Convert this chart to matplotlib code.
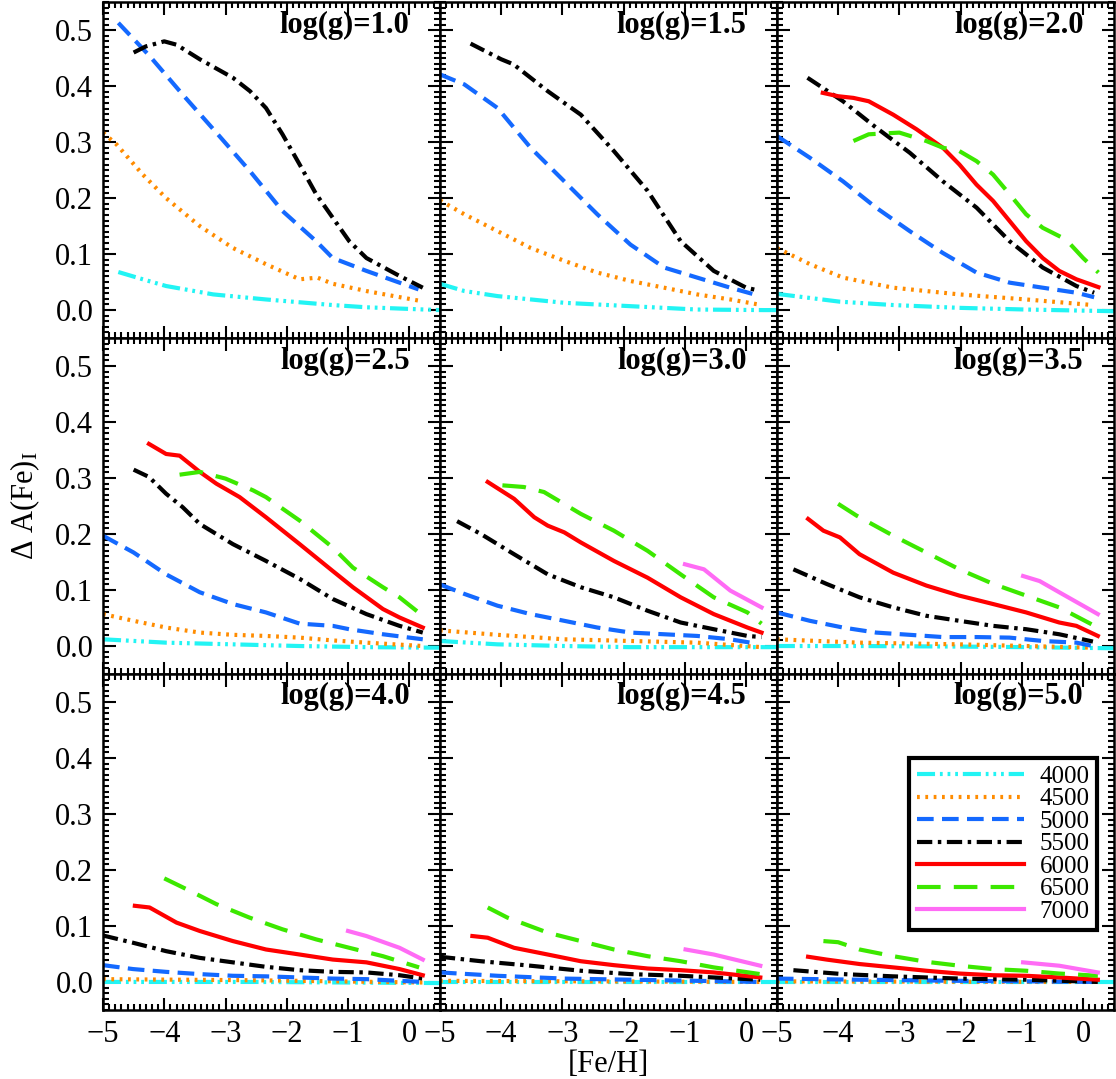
import numpy as np
import matplotlib
matplotlib.use('Agg')
import matplotlib.pyplot as plt
from matplotlib.ticker import MultipleLocator, FormatStrFormatter

plt.rcParams['font.family'] = ['Liberation Serif', 'DejaVu Serif']
plt.rcParams['mathtext.fontset'] = 'custom'
plt.rcParams['mathtext.rm'] = 'Liberation Serif'
plt.rcParams['mathtext.it'] = 'Liberation Serif:italic'
plt.rcParams['lines.scale_dashes'] = False

# effective temperatures and gravities
teffs = [4000, 4500, 5000, 5500, 6000, 6500, 7000]
loggs = ['1.0', '1.5', '2.0', '2.5', '3.0', '3.5', '4.0', '4.5', '5.0']

# curves per panel: Teff -> ([Fe/H], Delta A(Fe)_I)
g10 = {
    4000: ([-4.75, -4.35, -3.97, -3.2, -2.34, -1.25, -0.7, 0.5],
           [0.068, 0.055, 0.043, 0.028, 0.019, 0.009, 0.005, 0.0]),
    4500: ([-5.0, -4.78, -4.35, -3.97, -3.42, -2.88, -2.34, -1.79, -1.5, -1.25, -0.7, 0.2],
           [0.317, 0.296, 0.242, 0.200, 0.150, 0.111, 0.082, 0.055, 0.058, 0.047, 0.034, 0.016]),
    5000: ([-4.75, -4.24, -3.7, -3.15, -2.6, -2.07, -1.52, -1.25, -0.7, -0.16, 0.15],
           [0.513, 0.454, 0.385, 0.317, 0.248, 0.177, 0.123, 0.093, 0.070, 0.049, 0.037]),
    5500: ([-4.5, -4.3, -4.0, -3.8, -3.42, -2.88, -2.6, -2.34, -2.07, -1.79, -1.52, -1.25, -0.98, -0.7, -0.16, 0.22],
           [0.46, 0.471, 0.48, 0.474, 0.448, 0.415, 0.391, 0.361, 0.314, 0.26, 0.207, 0.165, 0.123, 0.093, 0.061, 0.040]),
}
g15 = {
    4000: ([-5, -4.6, -4.06, -2.97, -1.89, -0.8, 0.29, 0.5],
           [0.047, 0.034, 0.025, 0.013, 0.007, 0.001, 0.0, 0.0]),
    4500: ([-5, -4.6, -4.06, -3.52, -2.97, -2.43, -1.89, -1.34, -0.8, -0.26, 0.2],
           [0.196, 0.171, 0.141, 0.111, 0.088, 0.067, 0.052, 0.040, 0.028, 0.019, 0.010]),
    5000: ([-5, -4.6, -4.06, -3.52, -2.97, -2.43, -1.89, -1.34, -0.8, -0.26, 0.1],
           [0.421, 0.403, 0.361, 0.29, 0.23, 0.171, 0.117, 0.076, 0.058, 0.040, 0.029]),
    5500: ([-4.5, -4.0, -3.8, -3.24, -2.7, -2.16, -1.61, -1.07, -0.53, 0.0, 0.2],
           [0.476, 0.448, 0.439, 0.391, 0.349, 0.284, 0.213, 0.123, 0.070, 0.040, 0.035]),
}
g20 = {
    4000: ([-5, -3.97, -3.1, -2.02, -0.93, 0.5],
           [0.029, 0.015, 0.009, 0.004, 0.001, -0.002]),
    4500: ([-5, -4.46, -3.92, -3.1, -2.02, -0.93, 0.16],
           [0.111, 0.082, 0.058, 0.040, 0.028, 0.019, 0.009]),
    5000: ([-5, -4.46, -3.92, -3.38, -2.83, -2.29, -1.74, -1.2, -0.66, -0.11, 0.18],
           [0.311, 0.272, 0.23, 0.183, 0.141, 0.102, 0.067, 0.049, 0.040, 0.031, 0.023]),
    5500: ([-4.5, -3.92, -3.38, -2.83, -2.29, -1.74, -1.2, -0.66, -0.11, 0.18],
           [0.415, 0.373, 0.326, 0.281, 0.23, 0.183, 0.123, 0.076, 0.043, 0.031]),
    6000: ([-4.25, -4.0, -3.75, -3.5, -3.1, -2.72, -2.29, -2.02, -1.74, -1.47, -1.2, -0.93, -0.66, -0.39, -0.11, 0.25],
           [0.388, 0.382, 0.379, 0.373, 0.349, 0.323, 0.29, 0.26, 0.224, 0.195, 0.159, 0.123, 0.093, 0.07, 0.055, 0.041]),
    6500: ([-3.75, -3.5, -3.0, -2.56, -2.29, -2.02, -1.74, -1.47, -1.2, -0.93, -0.66, -0.28, 0.0, 0.25],
           [0.302, 0.314, 0.317, 0.302, 0.29, 0.284, 0.266, 0.242, 0.207, 0.171, 0.147, 0.126, 0.093, 0.067]),
}
g25 = {
    4000: ([-5, -3.97, -2.88, -1.79, -0.7, 0.5],
           [0.012, 0.006, 0.003, 0.0, -0.002, -0.003]),
    4500: ([-5, -4.5, -3.97, -3.42, -2.88, -2.34, -1.79, -1.25, -0.7, 0.22],
           [0.057, 0.045, 0.033, 0.024, 0.02, 0.018, 0.015, 0.01, 0.006, 0.0]),
    5000: ([-5, -4.5, -3.97, -3.42, -2.88, -2.34, -1.79, -1.25, -0.98, -0.43, 0.22],
           [0.197, 0.167, 0.128, 0.096, 0.075, 0.06, 0.04, 0.036, 0.03, 0.021, 0.012]),
    5500: ([-4.5, -4.25, -3.97, -3.7, -3.42, -2.88, -2.34, -1.79, -1.25, -0.7, -0.16, 0.22],
           [0.315, 0.302, 0.272, 0.248, 0.218, 0.182, 0.152, 0.12, 0.084, 0.057, 0.036, 0.024]),
    6000: ([-4.25, -3.97, -3.75, -3.42, -3.15, -2.77, -2.34, -1.79, -1.25, -0.92, -0.43, -0.16, 0.22],
           [0.361, 0.343, 0.34, 0.311, 0.29, 0.266, 0.23, 0.182, 0.134, 0.105, 0.066, 0.051, 0.033]),
    6500: ([-3.75, -3.42, -3.0, -2.55, -2.34, -1.79, -1.25, -0.92, -0.43, -0.16, 0.22],
           [0.306, 0.311, 0.299, 0.278, 0.266, 0.224, 0.176, 0.14, 0.105, 0.087, 0.054]),
}
g30 = {
    4000: ([-5, -4.06, -2.97, -1.89, 0.29, 0.5],
           [0.009, 0.003, 0.0, -0.002, -0.002, -0.002]),
    4500: ([-5, -4.06, -2.97, -1.89, -0.8, 0.25],
           [0.028, 0.02, 0.012, 0.009, 0.006, -0.002]),
    5000: ([-5, -4.6, -4.06, -3.52, -2.97, -2.43, -1.89, -1.34, -0.8, -0.26, 0.07],
           [0.11, 0.093, 0.072, 0.057, 0.045, 0.033, 0.024, 0.021, 0.018, 0.012, 0.006]),
    5500: ([-4.72, -4.33, -3.79, -3.24, -2.7, -2.16, -1.61, -1.07, -0.53, 0.02, 0.25],
           [0.223, 0.2, 0.164, 0.128, 0.105, 0.087, 0.063, 0.042, 0.03, 0.018, 0.016]),
    6000: ([-4.22, -3.79, -3.46, -3.24, -2.97, -2.7, -2.16, -1.61, -1.07, -0.53, 0.02, 0.25],
           [0.293, 0.263, 0.23, 0.215, 0.203, 0.185, 0.152, 0.122, 0.087, 0.057, 0.033, 0.024]),
    6500: ([-3.98, -3.63, -3.3, -2.7, -2.16, -1.61, -1.07, -0.53, 0.02, 0.25],
           [0.287, 0.284, 0.275, 0.236, 0.206, 0.17, 0.128, 0.087, 0.06, 0.04]),
    7000: ([-1.0, -0.69, -0.26, 0.25],
           [0.146, 0.137, 0.099, 0.069]),
}
g35 = {
    4000: ([-5, -3.65, -2.02, -0.93, 0.5],
           [0.0, 0.0, -0.001, -0.002, -0.004]),
    4500: ([-5, -3.65, -2.02, -0.93, 0.16],
           [0.012, 0.006, 0.003, 0.0, -0.003]),
    5000: ([-5, -4.46, -3.92, -3.38, -2.83, -2.29, -1.74, -1.2, -0.66, -0.11, 0.16],
           [0.06, 0.045, 0.033, 0.024, 0.02, 0.016, 0.016, 0.015, 0.009, 0.006, 0.0]),
    5500: ([-4.73, -4.19, -3.65, -3.1, -2.56, -2.02, -1.47, -0.93, -0.39, 0.16],
           [0.137, 0.111, 0.087, 0.069, 0.054, 0.045, 0.036, 0.03, 0.021, 0.008]),
    6000: ([-4.49, -4.24, -3.97, -3.65, -3.1, -2.56, -2.02, -1.47, -0.93, -0.39, -0.11, 0.24],
           [0.227, 0.206, 0.194, 0.164, 0.131, 0.108, 0.09, 0.075, 0.06, 0.042, 0.036, 0.018]),
    6500: ([-4.0, -3.7, -3.1, -2.56, -2.02, -1.47, -0.93, -0.39, 0.24],
           [0.254, 0.233, 0.197, 0.167, 0.137, 0.111, 0.09, 0.069, 0.033]),
    7000: ([-0.98, -0.71, -0.39, 0.24],
           [0.125, 0.116, 0.096, 0.057]),
}
g40 = {
    4000: ([-5, -2.5, 0.5], [0.0, 0.0, -0.002]),
    4500: ([-5, -2.5, 0.22], [0.005, 0.003, -0.001]),
    5000: ([-5, -4.51, -3.97, -3.42, -2.88, -2.34, -1.79, -1.25, -0.7, -0.16, 0.22],
           [0.03, 0.023, 0.018, 0.014, 0.011, 0.01, 0.008, 0.006, 0.005, 0.002, 0.0]),
    5500: ([-5, -4.51, -3.97, -3.42, -2.88, -2.34, -1.79, -1.25, -0.7, -0.16, 0.22],
           [0.083, 0.07, 0.055, 0.043, 0.035, 0.027, 0.021, 0.018, 0.017, 0.012, 0.006]),
    6000: ([-4.48, -4.24, -3.8, -3.42, -2.88, -2.34, -1.79, -1.25, -0.7, -0.16, 0.22],
           [0.136, 0.133, 0.106, 0.091, 0.073, 0.058, 0.049, 0.04, 0.035, 0.023, 0.012]),
    6500: ([-4.0, -3.53, -3.15, -2.61, -2.07, -1.52, -0.98, -0.43, 0.16],
           [0.185, 0.16, 0.139, 0.115, 0.094, 0.076, 0.061, 0.046, 0.026]),
    7000: ([-1.0, -0.7, -0.16, 0.22],
           [0.091, 0.082, 0.061, 0.04]),
}
g45 = {
    4000: ([-5, 0.5], [0.0, 0.0]),
    4500: ([-5, 0.22], [0.002, 0.0]),
    5000: ([-5, -4.06, -2.97, -1.89, -0.8, 0.23],
           [0.017, 0.011, 0.006, 0.004, 0.002, 0.0]),
    5500: ([-5, -4.33, -3.52, -2.7, -1.89, -1.07, -0.53, 0.23],
           [0.045, 0.037, 0.029, 0.02, 0.014, 0.011, 0.008, 0.004]),
    6000: ([-4.47, -4.22, -3.79, -3.24, -2.7, -2.16, -1.61, -1.07, -0.53, 0.23],
           [0.082, 0.079, 0.061, 0.049, 0.037, 0.03, 0.024, 0.021, 0.017, 0.008]),
    6500: ([-4.22, -3.9, -3.24, -2.7, -2.16, -1.61, -1.07, -0.53, 0.23],
           [0.133, 0.115, 0.088, 0.073, 0.058, 0.046, 0.037, 0.026, 0.014]),
    7000: ([-0.99, -0.53, 0.23],
           [0.058, 0.049, 0.029]),
}
g50 = {
    4000: ([-5, 0.5], [0.0, 0.0]),
    4500: ([-5, 0.24], [0.001, 0.0]),
    5000: ([-5, -3.65, -2.02, 0.24], [0.006, 0.004, 0.002, 0.0]),
    5500: ([-4.73, -3.92, -3.1, -2.02, -0.93, 0.24],
           [0.021, 0.014, 0.01, 0.006, 0.004, 0.0]),
    6000: ([-4.49, -4.19, -3.65, -3.1, -2.56, -2.02, -1.47, -0.93, -0.39, 0.24],
           [0.045, 0.04, 0.032, 0.026, 0.02, 0.015, 0.012, 0.011, 0.008, 0.004]),
    6500: ([-4.24, -4.0, -3.65, -3.1, -2.56, -2.02, -1.47, -0.93, -0.39, 0.24],
           [0.073, 0.071, 0.058, 0.046, 0.036, 0.029, 0.023, 0.02, 0.015, 0.011]),
    7000: ([-0.98, -0.39, 0.24],
           [0.035, 0.029, 0.017]),
}
panels = [g10, g15, g20, g25, g30, g35, g40, g45, g50]

# line styles (dash lengths in points)
styles = {
    4000: dict(color='#22F4F4', ls=(0, (13, 3.5, 2, 3.5, 2, 3.5, 2, 3.5))),
    4500: dict(color='#FF8C00', ls=(0, (2, 4))),
    5000: dict(color='#1469FF', ls=(0, (12, 6))),
    5500: dict(color='black', ls=(0, (11, 4, 2.5, 4))),
    6000: dict(color='#FF0000', ls='-'),
    6500: dict(color='#3CE800', ls=(0, (17, 9.5))),
    7000: dict(color='#FF6BF5', ls='-'),
}

fs = 22

fig, axes = plt.subplots(3, 3, figsize=(11.16, 10.79), dpi=100, sharex=True, sharey=True)
fig.subplots_adjust(left=0.0923, right=0.998, top=0.998, bottom=0.064, wspace=0, hspace=0)

for i, ax in enumerate(axes.flat):
    data = panels[i]
    for t in teffs:
        if t in data:
            x, y = data[t]
            ax.plot(x, y, lw=3, label=str(t), **styles[t])
    ax.set_xlim(-5, 0.5)
    ax.set_ylim(-0.05, 0.55)
    ax.xaxis.set_major_locator(MultipleLocator(1))
    ax.xaxis.set_minor_locator(MultipleLocator(0.1))
    ax.yaxis.set_major_locator(MultipleLocator(0.1))
    ax.yaxis.set_minor_locator(MultipleLocator(0.01))
    ax.yaxis.set_major_formatter(FormatStrFormatter('%.1f'))
    ax.tick_params(which='both', direction='in', top=True, right=True, width=1.5)
    ax.tick_params(which='major', length=9, labelsize=fs, pad=7)
    ax.tick_params(which='minor', length=4.5)
    for s in ax.spines.values():
        s.set_linewidth(1.8)
    ax.text(0.91, 0.975, 'log(g)=' + loggs[i], transform=ax.transAxes,
            ha='right', va='top', fontsize=fs, fontweight='bold')

leg = axes[2, 2].legend(loc='upper right', bbox_to_anchor=(0.95, 0.75), fontsize=18,
                        handlelength=4.3, handletextpad=0.6, labelspacing=0.0,
                        borderpad=0.3, borderaxespad=0, fancybox=False, framealpha=1)
leg.get_frame().set_edgecolor('black')
leg.get_frame().set_linewidth(3)

fig.text(0.545, 0.0, '[Fe/H]', ha='center', va='bottom', fontsize=fs)
fig.text(0.008, 0.531, r'$\Delta$ A(Fe)$_{\rm I}$', rotation=90, ha='left', va='center', fontsize=fs)

plt.savefig('out.png', dpi=100)
